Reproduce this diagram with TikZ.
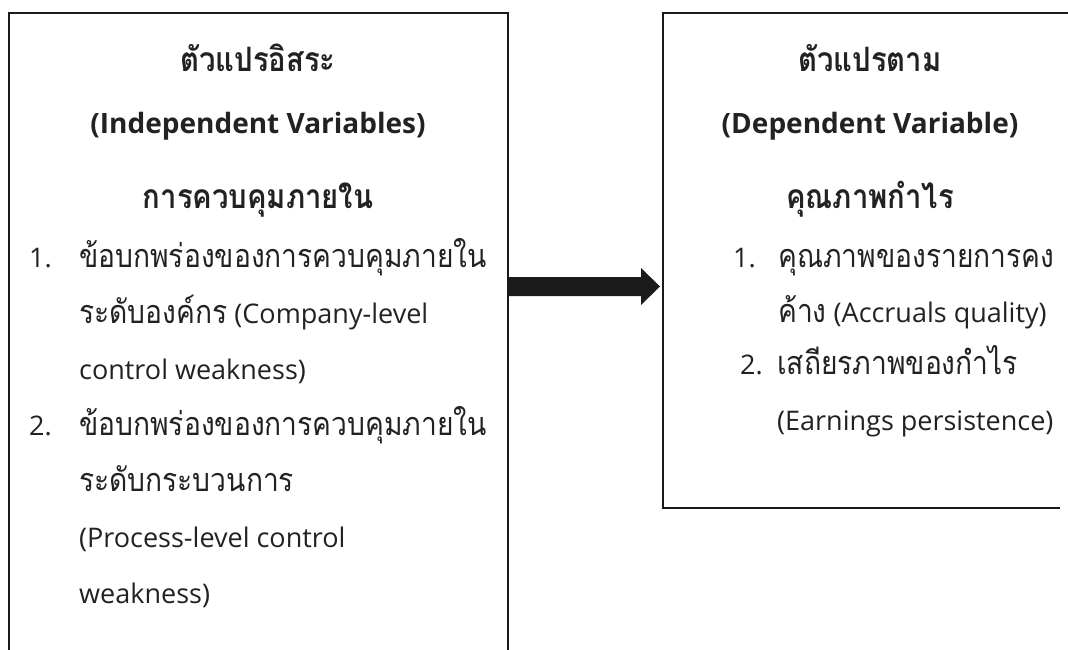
\documentclass[tikz,border=0pt]{standalone}
\usepackage{fontspec}
\setmainfont{Open Sans}
\newfontfamily\thai[Script=Thai,Scale=1.2,FakeStretch=0.87]{Loma}
\usetikzlibrary{calc}
\definecolor{boxline}{HTML}{1A1A1A}
\definecolor{txtcol}{HTML}{222222}
\tikzset{
  frame/.style={draw=boxline, line width=1.6pt},
  title/.style={anchor=base, inner sep=0pt, text=txtcol, font=\fontsize{28}{32}\selectfont\bfseries},
  body/.style={anchor=base west, inner sep=0pt, text=txtcol, font=\fontsize{27}{32}\selectfont},
  arrowfill/.style={fill=boxline}
}
\begin{document}
\begin{tikzpicture}[x=1pt,y=-1pt]
\useasboundingbox (0,0) rectangle (1068,650);
% boxes (open at the cut edges)
\coordinate (LB) at (9,650);
\coordinate (LT) at (9,13);
\coordinate (RT) at (508,13);
\coordinate (RB) at (508,650);
\draw[frame] (LB) -- (LT) -- (RT) -- (RB);
\coordinate (R1) at (1068,13);
\coordinate (R2) at (663,13);
\coordinate (R3) at (663,508);
\coordinate (R4) at (1060,508);
\draw[frame] (R1) -- (R2) -- (R3) -- (R4);
% arrow
\coordinate (aS) at (508,286.5);
\coordinate (aH) at (641,286.5);
\coordinate (aT) at (660,286.5);
\fill[arrowfill] ($(aS)+(0,-9.5)$) -- ($(aH)+(0,-9.5)$) -- ($(aH)+(0,-18.5)$) -- (aT)
  -- ($(aH)+(0,18.5)$) -- ($(aH)+(0,9.5)$) -- ($(aS)+(0,9.5)$) -- cycle;
% left box text
\node[title] (lt1) at (258,72) {\thai ตัวแปรอิสระ};
\node[title] (lt2) at (258,134) {(Independent Variables)};
\node[title] (lt3) at (258,208) {\thai การควบคุมภายใน};
\node[body] (ln1) at (29,267) {1.};
\node[body] (la1) at (79,267) {\thai ข้อบกพร่องของการควบคุมภายใน};
\node[body] (la2) at (79,323) {{\thai ระดับองค์กร} (Company-level};
\node[body] (la3) at (79,379) {control weakness)};
\node[body] (ln2) at (29,435) {2.};
\node[body] (lb1) at (79,435) {\thai ข้อบกพร่องของการควบคุมภายใน};
\node[body] (lb2) at (79,491) {\thai ระดับกระบวนการ};
\node[body] (lb3) at (79,547) {(Process-level control};
\node[body] (lb4) at (79,603) {weakness)};
% right box text
\node[title] (rt1) at (870,72) {\thai ตัวแปรตาม};
\node[title] (rt2) at (870,134) {(Dependent Variable)};
\node[title] (rt3) at (870,208) {\thai คุณภาพกำไร};
\node[body] (rn1) at (733,267) {1.};
\node[body] (ra1) at (778,267) {\thai คุณภาพของรายการคง};
\node[body] (ra2) at (778,322) {{\thai ค้าง} (Accruals quality)};
\node[body] (rn2) at (740,374) {2.};
\node[body] (rb1) at (777,374) {\thai เสถียรภาพของกำไร};
\node[body] (rb2) at (777,430) {(Earnings persistence)};
\end{tikzpicture}
\end{document}
